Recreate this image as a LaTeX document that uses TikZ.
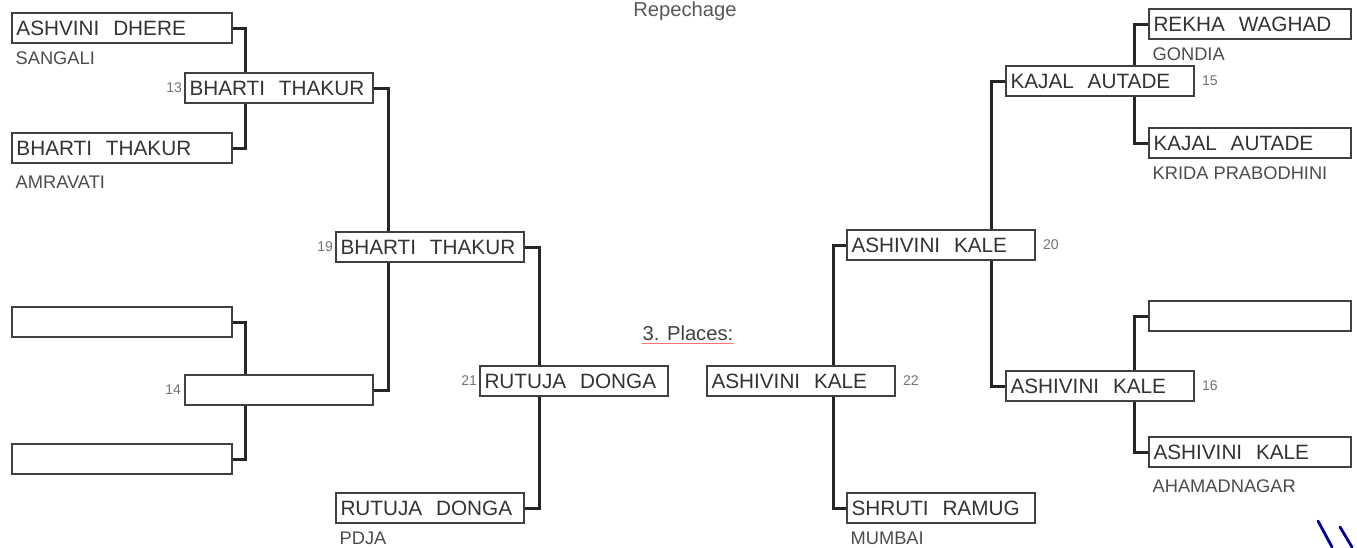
\documentclass[tikz,border=0pt]{standalone}
\usepackage{fontspec}
\setmainfont{Liberation Sans}
\usetikzlibrary{positioning,backgrounds}

\begin{document}
\begin{tikzpicture}[x=0.2mm, y=-0.2mm,
  box/.style={draw=black!75, line width=0.8pt, fill=white, minimum height=6mm, inner xsep=0.9mm, inner ysep=0pt, align=left, font=\fontsize{11.8}{12}\selectfont, text=black!80},
  wbox/.style={box, text width=42.2mm},
  mbox/.style={box, text width=35.8mm},
  rbox/.style={box, text width=38.6mm},
  club/.style={font=\fontsize{10.4}{11}\selectfont, text=black!70, inner sep=0pt},
  num/.style={font=\fontsize{8}{9}\selectfont, text=black!55, inner sep=0pt},
  link/.style={line width=1.7pt, black!85}]
\useasboundingbox (0,0) rectangle (1357,547);

% left half
\node[wbox] (a1) at (122,28) {ASHVINI~~DHERE};
\node[wbox] (a2) at (122,148) {BHARTI~~THAKUR};
\node[wbox] (a3) at (122,322) {};
\node[wbox] (a4) at (122,459) {};
\node[mbox] (b13) at (279,88) {BHARTI~~THAKUR};
\node[mbox] (b14) at (279,390) {};
\node[mbox] (c19) at (430,247) {BHARTI~~THAKUR};
\node[mbox] (cp) at (430,508) {RUTUJA~~DONGA};
\node[mbox] (d21) at (574,381) {RUTUJA~~DONGA};

\node[club, below right=1.6mm and 0.8mm of a1.south west] (sangali) {SANGALI};
\node[club, below right=2.4mm and 0.8mm of a2.south west] (amravati) {AMRAVATI};
\node[club, below right=1.5mm and 0.8mm of cp.south west] (pdja) {PDJA};
\node[num, left=0.4mm of b13] (n13) {13};
\node[num, left=0.6mm of b14] (n14) {14};
\node[num, left=0.4mm of c19] (n19) {19};
\node[num, left=0.4mm of d21] (n21) {21};

% right half
\node[mbox] (e22) at (801,381) {ASHIVINI~~KALE};
\node[mbox] (f20) at (941,245) {ASHIVINI~~KALE};
\node[mbox] (fm) at (941,508) {SHRUTI~~RAMUG};
\node[mbox] (g15) at (1100,81) {KAJAL~~AUTADE};
\node[mbox] (g16) at (1100,386) {ASHIVINI~~KALE};
\node[rbox] (h1) at (1250,24) {REKHA~~WAGHAD};
\node[rbox] (h2) at (1250,143) {KAJAL~~AUTADE};
\node[rbox] (h3) at (1250,316) {};
\node[rbox] (h4) at (1250,452) {ASHIVINI~~KALE};

\node[club, below right=1.5mm and 0.8mm of fm.south west] (mumbai) {MUMBAI};
\node[club, below right=1.6mm and 0.8mm of h1.south west] (gondia) {GONDIA};
\node[club, below right=1.6mm and 0.8mm of h2.south west] (krida) {KRIDA PRABODHINI};
\node[club, below right=2.4mm and 0.8mm of h4.south west] (ahmad) {AHAMADNAGAR};
\node[num, right=1.4mm of e22] (n22) {22};
\node[num, right=1.4mm of f20] (n20) {20};
\node[num, right=1.4mm of g15] (n15) {15};
\node[num, right=1.4mm of g16] (n16) {16};

% titles
\node[font=\fontsize{11.5}{12}\selectfont, text=black!65, anchor=base, inner sep=0pt] (rep) at (685,16) {Repechage};
\node[font=\fontsize{11.5}{12}\selectfont, text=black!75, anchor=base, inner sep=0pt] (places) at (688,340) {3. Places:};
\draw[red!55, line width=0.5pt] ([yshift=-0.6mm]places.south west) -- ([yshift=-0.6mm]places.south east);

% brackets
\begin{scope}[on background layer]
\draw[link] (a1.east) -- ++(13,0) |- (a2.east);
\draw[link] (a3.east) -- ++(13,0) |- (a4.east);
\draw[link] (b13.east) -- ++(15,0) |- (b14.east);
\draw[link] (c19.east) -- ++(15,0) |- (cp.east);
\draw[link] (h1.west) -- ++(-14,0) |- (h2.west);
\draw[link] (h3.west) -- ++(-14,0) |- (h4.west);
\draw[link] (g15.west) -- ++(-14,0) |- (g16.west);
\draw[link] (f20.west) -- ++(-13,0) |- (fm.west);
\end{scope}

% pen marks
\draw[blue!60!black, line width=1.6pt, line cap=round] (1318,521) -- (1332,547);
\draw[blue!60!black, line width=1.6pt, line cap=round] (1340,527) -- (1352,547);
\end{tikzpicture}
\end{document}
